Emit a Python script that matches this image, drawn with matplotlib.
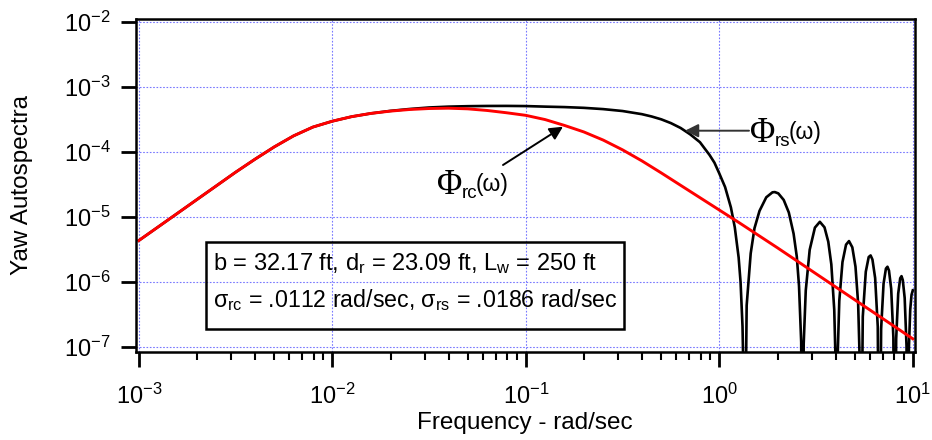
import numpy as np
import matplotlib
matplotlib.use("Agg")
import matplotlib.pyplot as plt
from matplotlib.patches import Rectangle
from matplotlib.ticker import LogLocator, NullLocator, FuncFormatter

# yaw autospectra (frequency in rad/sec)
freq_rc = [0.001, 0.001259, 0.001585, 0.001995, 0.002512, 0.003162, 0.003981,
           0.005012, 0.00631, 0.007943, 0.01, 0.01259, 0.01585, 0.01995, 0.02512,
           0.03162, 0.03981, 0.05012, 0.0631, 0.07943, 0.1, 0.1259, 0.1585, 0.1995,
           0.2512, 0.3162, 0.3981, 0.5012, 0.631, 0.7943, 1.0, 1.259, 1.585, 1.995,
           2.512, 3.162, 3.981, 5.012, 6.31, 7.943, 10.0]
phi_rc = [4.37e-6, 7.08e-6, 1.148e-5, 1.862e-5, 3.02e-5, 4.90e-5, 7.76e-5,
          1.202e-4, 1.778e-4, 2.427e-4, 2.985e-4, 3.508e-4, 3.936e-4, 4.266e-4,
          4.519e-4, 4.677e-4, 4.732e-4, 4.624e-4, 4.365e-4, 4.027e-4, 3.673e-4,
          3.162e-4, 2.570e-4, 2.042e-4, 1.531e-4, 1.084e-4, 7.33e-5, 4.79e-5,
          3.09e-5, 1.995e-5, 1.288e-5, 8.32e-6, 5.31e-6, 3.39e-6, 2.14e-6,
          1.349e-6, 8.51e-7, 5.37e-7, 3.39e-7, 2.14e-7, 1.349e-7]

# main lobe of the spatially filtered spectrum
freq_rs_main = [0.001, 0.001259, 0.001585, 0.001995, 0.002512, 0.003162, 0.003981,
                0.005012, 0.00631, 0.007943, 0.01, 0.01259, 0.01585, 0.01995,
                0.02512, 0.03162, 0.03981, 0.05012, 0.0631, 0.07943, 0.1, 0.1259,
                0.1585, 0.1995, 0.2512, 0.3162, 0.3981, 0.4467, 0.5012, 0.5623,
                0.631, 0.7079, 0.7943, 0.8913, 0.9441, 1.0, 1.0715, 1.1482, 1.2023,
                1.2589, 1.2882, 1.3183, 1.3335, 1.345]
phi_rs_main = [4.37e-6, 7.08e-6, 1.148e-5, 1.862e-5, 3.02e-5, 4.90e-5, 7.76e-5,
               1.202e-4, 1.778e-4, 2.427e-4, 2.985e-4, 3.508e-4, 3.936e-4, 4.3e-4,
               4.6e-4, 4.85e-4, 5.0e-4, 5.08e-4, 5.12e-4, 5.13e-4, 5.1e-4, 5.0e-4,
               4.92e-4, 4.79e-4, 4.58e-4, 4.28e-4, 3.83e-4, 3.53e-4, 3.19e-4, 2.79e-4,
               2.35e-4, 1.87e-4, 1.42e-4, 9.0e-5, 6.87e-5, 4.7e-5, 2.9e-5, 1.41e-5,
               7.0e-6, 2.4e-6, 1.0e-6, 2.1e-7, 3.8e-8, 1e-10]

# side lobes, nulls every ~1.345 rad/sec
freq_rs_lobes = [1.385, 1.453, 1.520, 1.614, 1.749, 1.883, 1.937, 2.018, 2.152, 2.287,
                 2.421, 2.515, 2.582, 2.650, 2.690,
                 2.730, 2.798, 2.932, 3.120, 3.309, 3.497, 3.658, 3.793, 3.927, 3.994,
                 4.035,
                 4.075, 4.170, 4.331, 4.519, 4.681, 4.869, 5.057, 5.219, 5.326, 5.380,
                 5.515, 5.716, 5.918, 6.053, 6.187, 6.389, 6.591, 6.725,
                 6.860, 7.061, 7.263, 7.398, 7.532, 7.734, 7.936, 8.070,
                 8.205, 8.406, 8.608, 8.743, 8.877, 9.079, 9.281, 9.415,
                 9.550, 9.700, 9.850, 10.0]
phi_rs_lobes = [4.4e-7, 2.77e-6, 6.76e-6, 1.25e-5, 2.02e-5, 2.41e-5, 2.43e-5, 2.32e-5,
                1.84e-5, 1.18e-5, 5.57e-6, 2.47e-6, 8.8e-7, 1.2e-7, 1e-10,
                1.13e-7, 7.45e-7, 3.15e-6, 6.91e-6, 8.48e-6, 6.98e-6, 4.19e-6, 1.88e-6,
                3.78e-7, 5.3e-8, 1e-10,
                5.1e-8, 5.18e-7, 2.04e-6, 3.78e-6, 4.29e-6, 3.44e-6, 1.73e-6, 4.7e-7,
                5.2e-8, 1e-10,
                2.96e-7, 1.45e-6, 2.44e-6, 2.58e-6, 2.23e-6, 1.16e-6, 2.08e-7, 1e-10,
                1.92e-7, 9.47e-7, 1.62e-6, 1.73e-6, 1.51e-6, 7.9e-7, 1.43e-7, 1e-10,
                1.34e-7, 6.68e-7, 1.15e-6, 1.24e-6, 1.08e-6, 5.73e-7, 1.05e-7, 1e-10,
                1.0e-7, 3.8e-7, 6.4e-7, 7.5e-7]

freq_rs = freq_rs_main + freq_rs_lobes
phi_rs = phi_rs_main + phi_rs_lobes

plt.rcParams['font.family'] = 'Liberation Sans'
plt.rcParams['mathtext.fontset'] = 'custom'
plt.rcParams['mathtext.rm'] = 'Liberation Serif'
plt.rcParams['mathtext.it'] = 'Liberation Sans'

W, H = 932, 440
fig = plt.figure(figsize=(W / 100, H / 100), dpi=100)
ax = fig.add_axes([135.5 / W, 88.3 / H, 779.5 / W, 332.7 / H])

ax.plot(freq_rs, phi_rs, color='black', lw=1.9, solid_joinstyle='round')
ax.plot(freq_rc, phi_rc, color='#ff0000', lw=2.1, solid_joinstyle='round')

ax.set_xscale('log')
ax.set_yscale('log')
ax.set_xlim(10 ** -3.017, 10 ** 1.0114)
ax.set_ylim(10 ** -7.068, 10 ** -1.954)

ax.xaxis.set_major_locator(LogLocator(base=10, numticks=20))
ax.xaxis.set_minor_locator(LogLocator(base=10, subs=np.arange(2, 10), numticks=20))
ax.yaxis.set_major_locator(LogLocator(base=10, numticks=20))
ax.yaxis.set_minor_locator(NullLocator())

def decade_label(v, pos):
    e = int(round(np.log10(v)))
    return r'$\mathregular{10^{%d}}$' % e

ax.xaxis.set_major_formatter(FuncFormatter(decade_label))
ax.yaxis.set_major_formatter(FuncFormatter(decade_label))

ax.tick_params(which='major', direction='out', length=11, width=2, labelsize=17)
ax.tick_params(which='minor', direction='out', length=6, width=1.5)
ax.tick_params(axis='x', which='major', pad=12)
ax.tick_params(axis='y', which='major', pad=7)

for sp in ax.spines.values():
    sp.set_linewidth(1.8)

ax.grid(which='major', color='#7878ff', linestyle=(0, (1.5, 1.5)), linewidth=0.8)
ax.set_axisbelow(True)

fig.text(525 / W, 1 - 423 / H, 'Frequency - rad/sec', fontsize=17.5,
         ha='center', va='center')
fig.text(22 / W, 1 - 185 / H, 'Yaw Autospectra', fontsize=17.5,
         ha='center', va='center', rotation=90)

# parameter box
fig.patches.append(Rectangle((206 / W, 1 - 328.7 / H), 418 / W, 86.4 / H,
                             transform=fig.transFigure, fill=False,
                             edgecolor='black', linewidth=1.8))
fig.text(213 / W, 1 - 270 / H,
         r'b = 32.17 ft, d$_\mathregular{r}$ = 23.09 ft, L$_\mathregular{w}$ = 250 ft',
         fontsize=17, va='baseline')
fig.text(213 / W, 1 - 307 / H,
         r'σ$_\mathregular{rc}$ = .0112 rad/sec, σ$_\mathregular{rs}$ = .0186 rad/sec',
         fontsize=16.7, va='baseline')

# curve labels with arrows
def phi_label(x, y, sub):
    fig.text(x / W, 1 - y / H, 'Φ', fontsize=25, family='Liberation Serif',
             va='baseline')
    fig.text((x + 25) / W, 1 - (y + 4) / H, sub, fontsize=13.5, va='baseline')
    fig.text((x + 39) / W, 1 - (y - 3) / H, '(ω)', fontsize=16.5, va='baseline')

phi_label(750, 142, 'rs')
phi_label(437, 194, 'rc')

ax.annotate('', xy=(685, H - 130.7), xycoords='figure pixels',
            xytext=(749, H - 130.7), textcoords='figure pixels',
            arrowprops=dict(arrowstyle='-|>', color='#333333', lw=1.4,
                            mutation_scale=20, shrinkA=0, shrinkB=0))
ax.annotate('', xy=(563, H - 126.7), xycoords='figure pixels',
            xytext=(503, H - 165), textcoords='figure pixels',
            arrowprops=dict(arrowstyle='-|>', color='black', lw=1.4,
                            mutation_scale=20, shrinkA=0, shrinkB=0))

fig.savefig('out.png', dpi=100)
